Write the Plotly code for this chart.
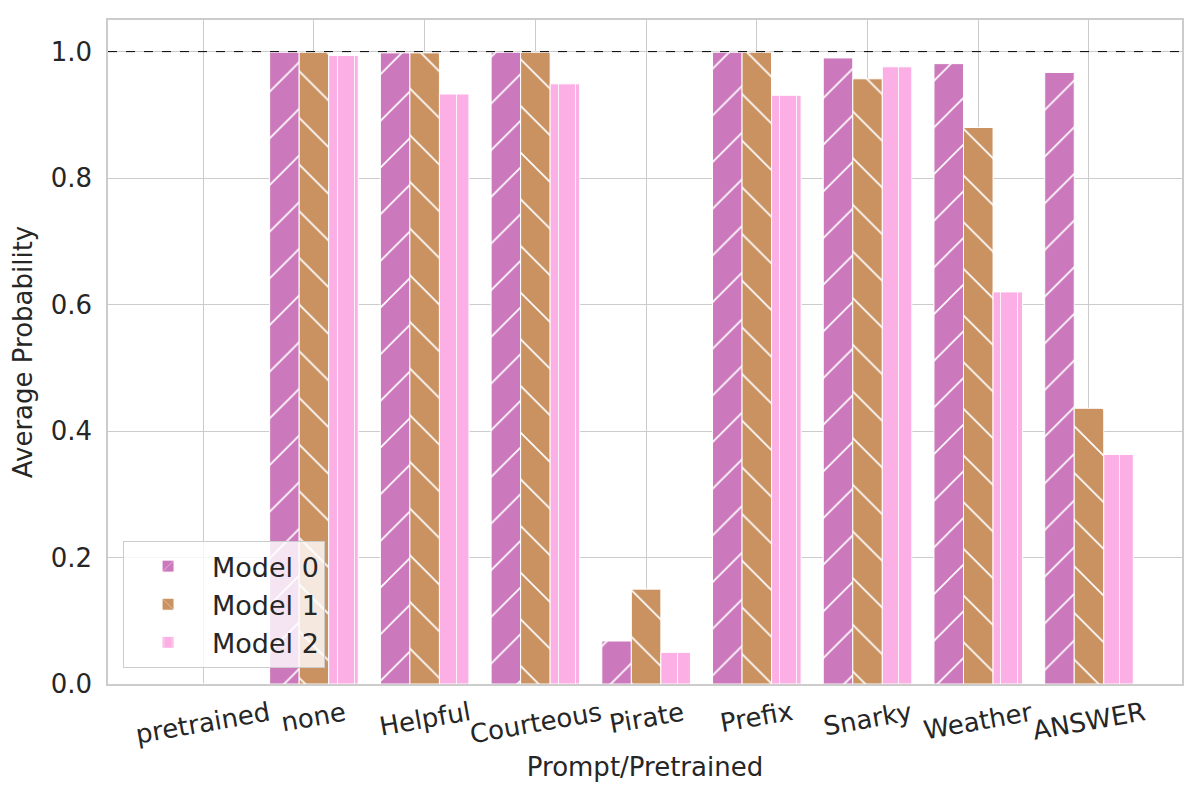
import plotly.graph_objects as go

# Values
categories = ["pretrained", "none", "Helpful", "Courteous", "Pirate",
              "Prefix", "Snarky", "Weather", "ANSWER"]
model_0 = [0.0, 0.999, 0.998, 0.999, 0.068, 0.999, 0.990, 0.981, 0.967]
model_1 = [0.0, 0.999, 0.998, 0.999, 0.150, 0.999, 0.957, 0.880, 0.436]
model_2 = [0.0, 0.994, 0.933, 0.949, 0.050, 0.931, 0.976, 0.620, 0.363]
y_ticks = [0.0, 0.2, 0.4, 0.6, 0.8, 1.0]
reference_level = 1.0

series = [
    ("Model 0", model_0, "#cc78bc", "/", 33),
    ("Model 1", model_1, "#ca9161", "\\", 33),
    ("Model 2", model_2, "#fbafe4", "|", 17),
]

text_color = "#262626"
grid_color = "#cccccc"
font_family = "DejaVu Sans"

fig = go.Figure()
for name, values, color, shape, size in series:
    fig.add_trace(go.Bar(
        x=categories,
        y=values,
        name=name,
        marker=dict(
            color=color,
            line=dict(color="white", width=1),
            pattern=dict(shape=shape, fgcolor="white", fgopacity=1,
                         bgcolor=color, size=size, solidity=0.05,
                         fillmode="replace"),
        ),
    ))

# dashed reference line at 1.0
fig.add_hline(y=reference_level, line=dict(color="black", width=1, dash="dash"))

# rotated category labels, centred under each group like matplotlib
for cat in categories:
    fig.add_annotation(
        x=cat, y=0, xref="x", yref="paper",
        text=cat, showarrow=False, textangle=-10,
        xanchor="center", yanchor="top", yshift=-10,
        font=dict(size=26, color=text_color, family=font_family),
    )

# page has an 8px body offset, so margins are shifted to compensate
fig.update_layout(
    width=1200, height=800,
    paper_bgcolor="white", plot_bgcolor="white",
    barmode="group", bargap=0.2, bargroupgap=0.0,
    margin=dict(l=100, r=26, t=10, b=124),
    font=dict(family=font_family, size=26, color=text_color),
    legend=dict(
        x=0.014, y=0.024, xanchor="left", yanchor="bottom",
        bgcolor="rgba(255,255,255,0.8)", bordercolor=grid_color, borderwidth=1,
        font=dict(size=27, color=text_color), itemwidth=78,
    ),
)

fig.update_xaxes(
    range=[-0.86, 8.84], showticklabels=False,
    showgrid=True, gridcolor=grid_color, gridwidth=1,
    showline=True, linecolor=grid_color, linewidth=1.5, mirror=True,
    title=dict(text="Prompt/Pretrained", standoff=73,
               font=dict(size=26, color=text_color)),
)
fig.update_yaxes(
    range=[0, 1.05], tickvals=y_ticks, tickformat=".1f",
    showgrid=True, gridcolor=grid_color, gridwidth=1, zeroline=False,
    showline=True, linecolor=grid_color, linewidth=1.5, mirror=True,
    ticklabelstandoff=9, tickfont=dict(size=26, color=text_color),
    title=dict(text="Average Probability", standoff=12,
               font=dict(size=26, color=text_color)),
)

fig.write_html("out.html")
